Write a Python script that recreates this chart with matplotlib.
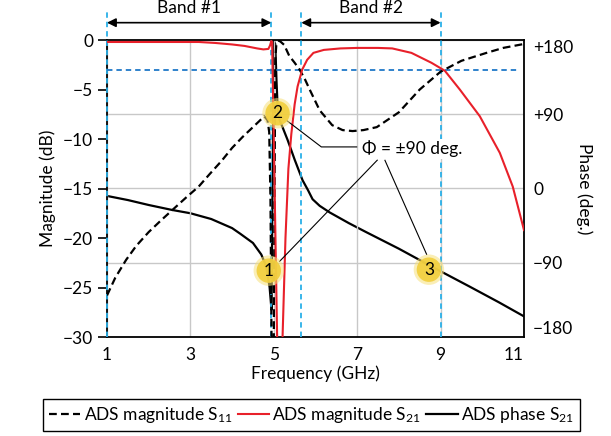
import matplotlib
matplotlib.use('Agg')
import matplotlib.pyplot as plt

plt.rcParams['font.family'] = ['Lato', 'DejaVu Sans']
plt.rcParams['mathtext.fontset'] = 'custom'
plt.rcParams['mathtext.rm'] = 'Lato'
plt.rcParams['mathtext.default'] = 'regular'

# ---------------- data ----------------
s11_f = [1.0, 1.2, 1.46, 1.7, 2.0, 2.3, 2.56, 2.9, 3.2, 3.45, 3.75, 4.0, 4.25, 4.5,
         4.65, 4.77, 4.85, 4.89, 4.92, 4.945, 4.965, 5.0, 5.035, 5.06, 5.13, 5.25,
         5.37, 5.5, 5.62, 5.75, 5.86, 6.1, 6.4, 6.65, 6.89, 7.15, 7.47, 8.0, 8.5,
         9.0, 9.5, 10.1, 10.5, 11.0]
s11_db = [-25.8, -24.0, -22.2, -20.8, -19.4, -18.2, -17.2, -15.9, -14.8, -13.6, -12.2,
          -10.9, -9.8, -8.8, -8.2, -7.7, -8.1, -9.3, -16.0, -30.0, -42.0, -30.0, -2.0,
          -0.5, -0.05, -0.5, -1.6, -2.3, -3.0, -4.0, -5.0, -7.1, -8.6, -9.1, -9.2,
          -9.1, -8.8, -7.3, -5.0, -3.2, -2.1, -1.3, -0.8, -0.4]

s21_f = [1.0, 2.0, 3.2, 3.6, 4.0, 4.3, 4.6, 4.75, 4.87, 4.91, 4.94, 4.96, 5.08, 5.14,
         5.21, 5.28, 5.35, 5.42, 5.5, 5.57, 5.68, 5.8, 5.95, 6.2, 6.6, 7.0, 7.5, 7.84,
         8.3, 8.78, 9.1, 9.46, 9.94, 10.42, 10.73, 11.0]
s21_db = [-0.2, -0.2, -0.2, -0.3, -0.45, -0.6, -0.85, -0.95, -0.9, -0.55, -0.1, -0.2,
          -30.0, -45.0, -30.0, -20.0, -13.0, -9.5, -6.5, -4.7, -3.0, -2.0, -1.3, -1.0,
          -0.85, -0.8, -0.8, -0.85, -1.3, -2.3, -3.1, -5.0, -7.7, -11.4, -14.8, -19.2]

ph_f = [1.0, 1.5, 2.0, 2.56, 3.0, 3.5, 4.0, 4.2, 4.5, 4.7, 4.8, 4.85, 4.9, 4.945,
        5.0, 5.035, 5.065, 5.095, 5.14, 5.22, 5.33, 5.5, 5.69, 5.82, 5.93, 6.1, 6.34,
        6.8, 7.22, 8.0, 8.8, 9.7, 10.4, 11.0]
ph_deg = [-9, -14, -20, -26, -30, -37, -48, -55, -66, -80, -92, -103, -120, -147,
          179, 175, 130, 95, 83, 73, 59, 35, 10, -2, -13, -21, -29,
          -42, -53, -73, -95, -119, -138, -155]

freq_ticks = [1, 3, 5, 7, 9, 11]
freq_labels = ['1', '3', '5', '7', '9', '11']
mag_ticks = [0, -5, -10, -15, -20, -25, -30]
mag_labels = ['0', '\u22125', '\u221210', '\u221215', '\u221220', '\u221225', '\u221230']
ph_ticks = [-180, -90, 0, 90, 180]
ph_labels = ['\u2212180', '\u221290', '0', '+90', '+180']

band_edges = [1.0, 4.94, 5.66, 9.0]
bands = [(1.0, 4.94, 'Band #1'), (5.66, 9.0, 'Band #2')]
markers = [(4.88, -23.3, '1'), (5.09, -7.4, '2'), (8.72, -23.2, '3')]

FS = 12.5
W, H = 611, 436
fig = plt.figure(figsize=(W / 100, H / 100), dpi=100)
L, R, T, B = 107, 524, 40, 337
ax1 = fig.add_axes([L / W, 1 - B / H, (R - L) / W, (B - T) / H])
ax2 = ax1.twinx()
ax1.set_zorder(ax2.get_zorder() + 1)
ax1.patch.set_visible(False)

ax1.set_xlim(1, 11)
ax1.set_ylim(-30, 0)
ax2.set_ylim(-180, 180)

grid_c = '#c8c8c8'
ax2.set_yticks(ph_ticks)
ax2.set_yticklabels(ph_labels)
ax2.grid(axis='y', color=grid_c, lw=1.0)
ax1.set_xticks(freq_ticks)
ax1.set_xticklabels(freq_labels)
ax1.grid(axis='x', color=grid_c, lw=1.0)
ax1.set_yticks(mag_ticks)
ax1.set_yticklabels(mag_labels)

for sp in ax1.spines.values():
    sp.set_linewidth(1.3)
for sp in ax2.spines.values():
    sp.set_visible(False)

ax1.tick_params(axis='y', direction='out', length=6.5, width=1.2, pad=3.5, labelsize=FS)
ax1.tick_params(axis='x', length=0, pad=7, labelsize=FS)
ax2.tick_params(axis='y', length=0, pad=6.5, labelsize=FS)

labs = ax2.get_yticklabels()
for t in labs:
    t.set_horizontalalignment('left')
labs[0].set_verticalalignment('bottom')
labs[-1].set_verticalalignment('top')
xl = ax1.get_xticklabels()
xl[-1].set_horizontalalignment('right')

ax1.set_xlabel('Frequency (GHz)', fontsize=FS, labelpad=2)
ax1.set_ylabel('Magnitude (dB)', fontsize=FS, labelpad=5)
ax2.set_ylabel('Phase (deg.)', fontsize=FS, rotation=270, va='bottom', labelpad=2)

# curves
ln_ph, = ax2.plot(ph_f, ph_deg, color='black', lw=1.6, zorder=3)
ln_s11, = ax1.plot(s11_f, s11_db, color='black', lw=1.6, ls=(0, (3.5, 1.9)), zorder=3)
ln_s21, = ax1.plot(s21_f, s21_db, color='#e8202a', lw=1.5, zorder=3.1)

# blue reference lines
ax1.vlines(band_edges, -30, 3.0, colors='#2ab0e8', linestyles=[(0, (3, 2.2))], lw=1.3,
           clip_on=False, zorder=2.6)
ax1.hlines(-3, 1, 10.9, colors='#1f78c8', linestyles=[(0, (3, 2.2))], lw=1.3, zorder=2.6)

# bands
for a, b, lab in bands:
    ax1.annotate('', xy=(a, 1.75), xytext=(b, 1.75),
                 arrowprops=dict(arrowstyle='<|-|>', color='black', lw=1.2,
                                 shrinkA=0, shrinkB=0, mutation_scale=13),
                 annotation_clip=False)
    ax1.text((a + b) / 2, 3.2, lab, ha='center', va='center', fontsize=FS, clip_on=False)

# leader lines
lk = dict(color='black', lw=0.8, zorder=4, solid_capstyle='butt')
ax1.plot([5.30, 6.14, 7.0], [-8.1, -10.8, -10.8], **lk)
ax1.plot([7.49, 5.13], [-12.1, -22.4], **lk)
ax1.plot([7.66, 8.67], [-12.1, -21.7], **lk)
ax1.text(8.33, -11.0, '\u03a6 = \u00b190 deg.', ha='center', va='center', fontsize=FS,
         zorder=6, bbox=dict(facecolor='white', edgecolor='none', pad=1.0))

# numbered markers
mx = [m[0] for m in markers]
my = [m[1] for m in markers]
ax1.scatter(mx, my, s=480, color='#f7e07a', alpha=0.55, edgecolors='none', zorder=7)
ax1.scatter(mx, my, s=310, color='#f2cf3e', alpha=0.92, edgecolors='none', zorder=7.1)
for x, y, t in markers:
    ax1.text(x, y, t, ha='center', va='center', fontsize=FS, zorder=8)

leg = fig.legend([ln_s11, ln_s21, ln_ph],
                 ['ADS magnitude S$_{11}$', 'ADS magnitude S$_{21}$', 'ADS phase S$_{21}$'],
                 loc='center', bbox_to_anchor=(311.5 / W, 1 - 415 / H), ncol=3,
                 frameon=True, fancybox=False, edgecolor='black', framealpha=1,
                 handlelength=1.8, handletextpad=0.2, columnspacing=0.3, borderpad=0.35,
                 fontsize=FS)
leg.get_frame().set_linewidth(1.0)

fig.savefig('out.png', dpi=100)
